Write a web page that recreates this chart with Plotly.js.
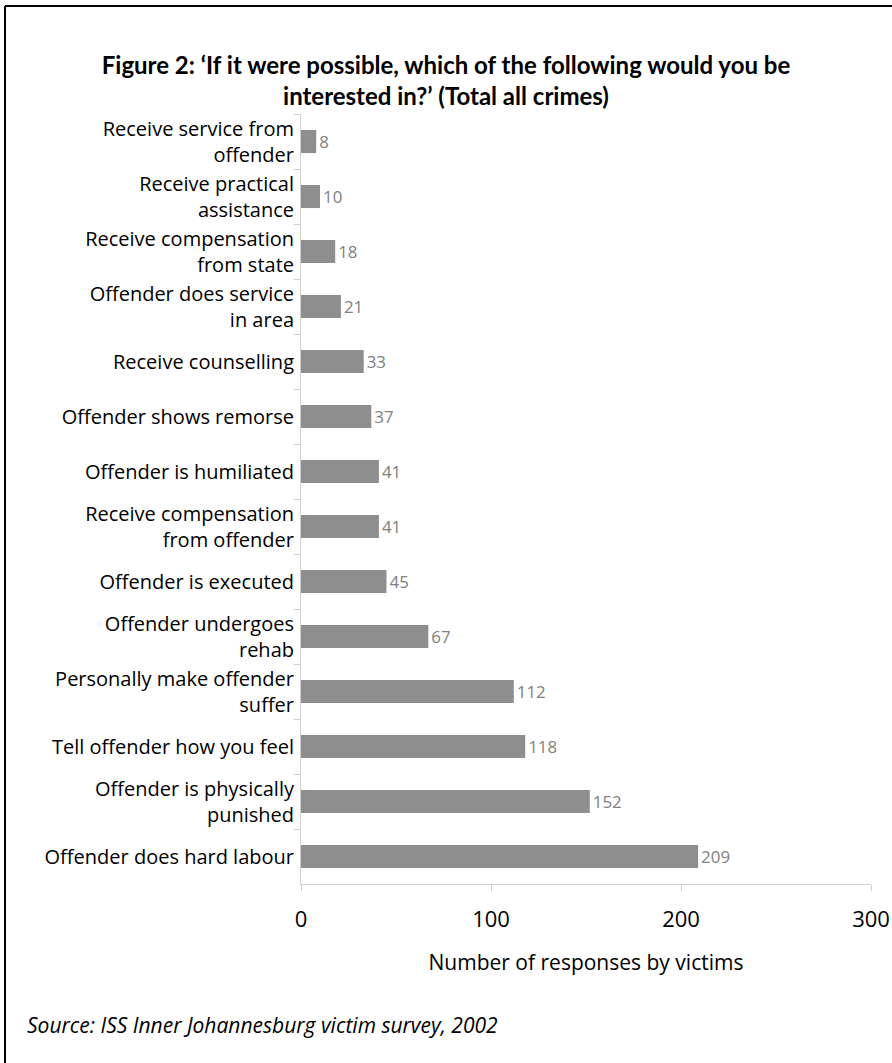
<!DOCTYPE html>
<html>
<head>
<meta charset="utf-8">
<script src="https://cdn.plot.ly/plotly-3.0.1.min.js"></script>
<style>
  html, body { margin: 0; padding: 0; background: #fff; }
  #chart { width: 892px; height: 1063px; }
</style>
</head>
<body>
<div id="chart"></div>
<script>
const categories = [
  "Receive service from<br>offender",
  "Receive practical<br>assistance",
  "Receive compensation<br>from state",
  "Offender does service<br>in area",
  "Receive counselling",
  "Offender shows remorse",
  "Offender is humiliated",
  "Receive compensation<br>from offender",
  "Offender is executed",
  "Offender undergoes<br>rehab",
  "Personally make offender<br>suffer",
  "Tell offender how you feel",
  "Offender is physically<br>punished",
  "Offender does hard labour"
];
const responses = [8, 10, 18, 21, 33, 37, 41, 41, 45, 67, 112, 118, 152, 209];
const xTicks = [0, 100, 200, 300];

const trace = {
  type: "bar",
  orientation: "h",
  y: categories,
  x: responses,
  text: responses.map(String),
  textposition: "outside",
  cliponaxis: false,
  textfont: { family: "Open Sans, sans-serif", size: 19, color: "#808080" },
  marker: { color: "#8e8e8e" },
  hoverinfo: "none"
};

const L = 301, R = 871, T = 114, B = 884;
const W = 892, H = 1063;
const px = (p) => (p - L) / (R - L);
const py = (p) => (B - p) / (B - T);

const layout = {
  width: W, height: H,
  margin: { l: L, r: W - R, t: T, b: H - B, pad: 0 },
  paper_bgcolor: "#ffffff",
  plot_bgcolor: "#ffffff",
  showlegend: false,
  bargap: 0.58,
  font: { family: "Open Sans, sans-serif", color: "#000000" },
  title: {
    text: "<b>Figure 2: ‘If it were possible, which of the following would you be<br>interested in?’ (Total all crimes)</b>",
    font: { family: "Lato, sans-serif", size: 24, color: "#000000" },
    x: 0.5, xanchor: "center", xref: "container",
    y: 1 - 74 / H, yanchor: "middle", yref: "container"
  },
  xaxis: {
    range: [0, 300],
    tickvals: xTicks,
    ticktext: xTicks.map(String),
    showgrid: false,
    zeroline: false,
    showline: true,
    linecolor: "#d0d0d0",
    linewidth: 1,
    ticks: "outside",
    ticklen: 6,
    tickcolor: "#d0d0d0",
    ticklabelstandoff: 10,
    tickfont: { family: "Open Sans, sans-serif", size: 22, color: "#000000" },
    title: {
      text: "Number of responses by victims",
      font: { family: "Open Sans, sans-serif", size: 21, color: "#000000" },
      standoff: 22
    },
    automargin: false,
    fixedrange: true
  },
  yaxis: {
    type: "category",
    autorange: "reversed",
    showgrid: false,
    zeroline: false,
    showline: true,
    linecolor: "#d0d0d0",
    linewidth: 1,
    ticks: "outside",
    tickson: "boundaries",
    ticklen: 6,
    tickcolor: "#d0d0d0",
    ticklabelstandoff: 2,
    tickfont: { family: "Open Sans, sans-serif", size: 20, color: "#000000" },
    automargin: false,
    fixedrange: true
  },
  shapes: [
    { type: "line", xref: "paper", yref: "paper", x0: px(5), x1: px(892), y0: py(6), y1: py(6),
      line: { color: "#000000", width: 2 } },
    { type: "line", xref: "paper", yref: "paper", x0: px(5), x1: px(5), y0: py(6), y1: py(1063),
      line: { color: "#000000", width: 2 } }
  ],
  annotations: [
    {
      text: "<i>Source: ISS Inner Johannesburg victim survey, 2002</i>",
      xref: "paper", yref: "paper", x: px(25), y: py(1025),
      xanchor: "left", yanchor: "middle", showarrow: false,
      font: { family: "Open Sans, sans-serif", size: 21, color: "#000000" }
    }
  ]
};

Plotly.newPlot("chart", [trace], layout, { displayModeBar: false, staticPlot: true });
</script>
</body>
</html>
